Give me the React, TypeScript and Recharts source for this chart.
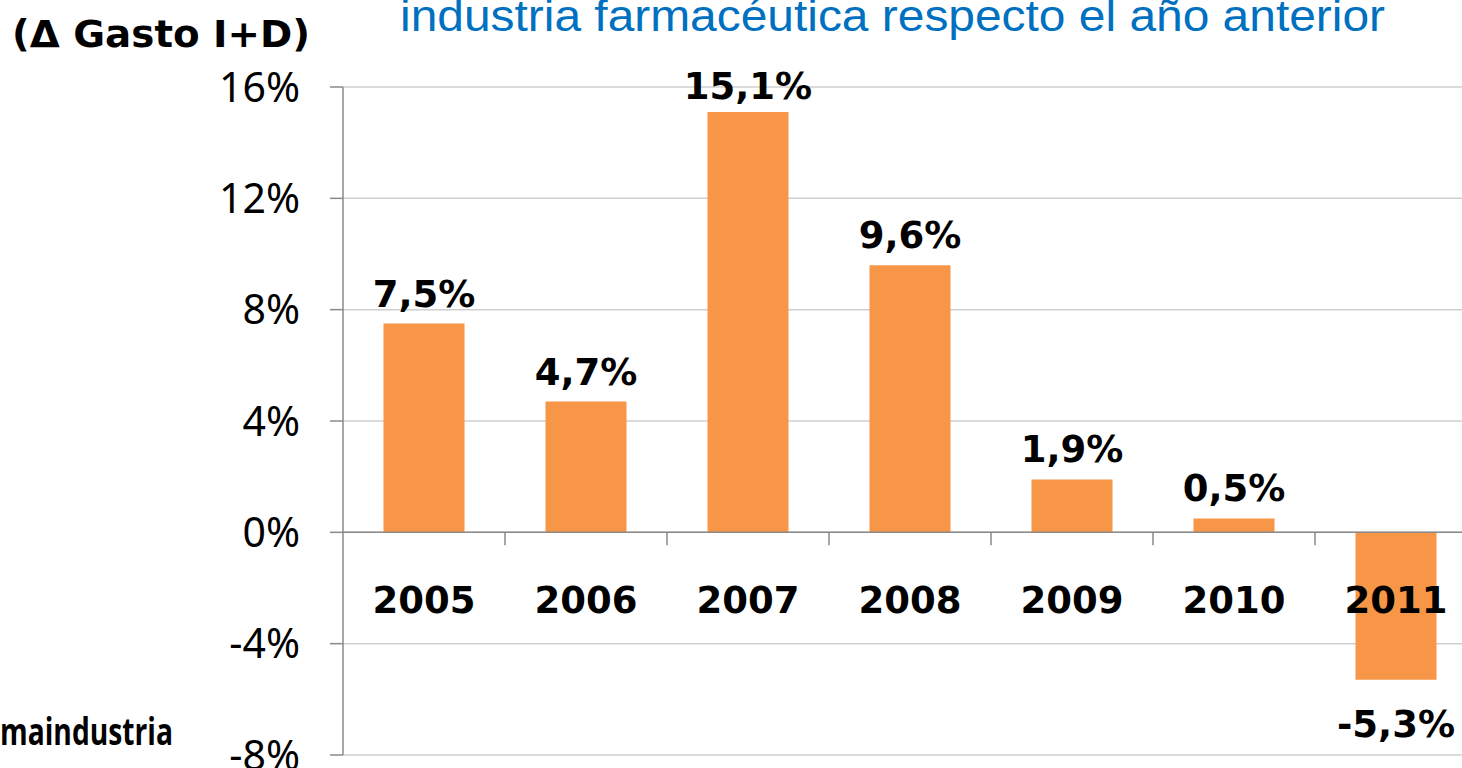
import React from "react"
import { BarChart, Bar, XAxis, YAxis, CartesianGrid, ReferenceLine, LabelList } from "recharts"

// ── data ─────────────────────────────────────────────
const years = ["2005", "2006", "2007", "2008", "2009", "2010", "2011"]
const growth = [7.5, 4.7, 15.1, 9.6, 1.9, 0.5, -5.3]
const yTicks = [-8, -4, 0, 4, 8, 12, 16]

const data = years.map((year, i) => ({ year, value: growth[i] }))

const ORANGE = "#F79646"
const AXIS = "#8a8a8a"
const GRID = "#cfcfcf"
const BOLD_FONT = "'DejaVu Sans', Verdana, sans-serif"

const fmt = (v: number) => `${v.toFixed(1).replace(".", ",")}%`

function ValueLabel(props: any) {
  const { x, y, width, height, value } = props
  const top = Math.min(y, y + height)
  const bottom = Math.max(y, y + height)
  const cx = x + width / 2
  const baseline = value >= 0 ? Math.max(top - 17, 99) : bottom + 57
  return (
    <text x={cx} y={baseline} textAnchor="middle" fontFamily={BOLD_FONT} fontWeight="bold" fontSize={37} fill="#000">
      {fmt(value)}
    </text>
  )
}

function YearLabel(props: any) {
  const { x, y, width, height, index, value } = props
  const top = Math.min(y, y + height)
  const bottom = Math.max(y, y + height)
  const zero = growth[index] >= 0 ? bottom : top
  const cx = x + width / 2
  const band = width * 2
  const tickX = cx - band / 2
  return (
    <g>
      {index > 0 && <line x1={tickX} x2={tickX} y1={zero} y2={zero + 13} stroke={AXIS} strokeWidth={1.5} />}
      <text x={cx} y={zero + 81} textAnchor="middle" fontFamily={BOLD_FONT} fontWeight="bold" fontSize={37} fill="#000">
        {value}
      </text>
    </g>
  )
}

export default function App() {
  return (
    <div style={{ position: "fixed", left: 0, top: 0, width: 1462, height: 768, overflow: "hidden", background: "#fff" }}>
      <BarChart width={1480} height={800} data={data} margin={{ top: 87, right: 3, bottom: 45, left: 0 }} barCategoryGap="25%">
        <CartesianGrid vertical={false} stroke={GRID} strokeWidth={1.5} />
        <XAxis dataKey="year" hide />
        <YAxis
          width={343}
          domain={[-8, 16]}
          ticks={yTicks}
          interval={0}
          tickFormatter={(v) => `${v}%`}
          stroke={AXIS}
          strokeWidth={1.5}
          tickSize={13}
          tickMargin={30}
          tick={{ fill: "#000", fontSize: 41, fontFamily: "'Noto Sans', sans-serif" }}
        />
        <ReferenceLine y={0} stroke={AXIS} strokeWidth={1.5} />
        <Bar dataKey="value" fill={ORANGE} isAnimationActive={false}>
          <LabelList dataKey="value" content={<ValueLabel />} />
          <LabelList dataKey="year" content={<YearLabel />} />
        </Bar>
      </BarChart>
      <svg width={1462} height={768} style={{ position: "absolute", left: 0, top: 0, pointerEvents: "none" }}>
        <text x={400} y={31} fontFamily="'Liberation Sans Narrow', 'Liberation Sans', Arial, sans-serif" fontSize={44} fill="#0070C0" textLength={985} lengthAdjust="spacingAndGlyphs">
          industria farmacéutica respecto el año anterior
        </text>
        <text x={12} y={47} fontFamily={BOLD_FONT} fontWeight="bold" fontSize={37} fill="#000" textLength={298} lengthAdjust="spacingAndGlyphs">
          (Δ Gasto I+D)
        </text>
        <text x={0} y={745} fontFamily="'Open Sans', 'Noto Sans', sans-serif" fontWeight="bold" fontSize={38} fill="#000" textLength={173} lengthAdjust="spacingAndGlyphs">
          maindustria
        </text>
      </svg>
    </div>
  )
}
